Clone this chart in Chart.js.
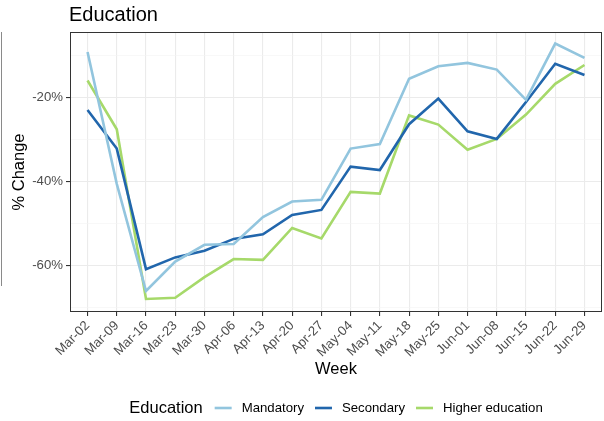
<!DOCTYPE html>
<html>
<head>
<meta charset="utf-8">
<script src="https://cdn.jsdelivr.net/npm/chart.js@4/dist/chart.umd.min.js"></script>
<style>
    html, body { margin: 0; padding: 0; background: #fff; }
    #wrap { width: 604px; height: 421px; }
</style>
</head>
<body>
<div id="wrap"><canvas id="lineChart" width="604" height="421"></canvas></div>
<script>
let weeks = ['Mar-02', 'Mar-09', 'Mar-16', 'Mar-23', 'Mar-30', 'Apr-06', 'Apr-13', 'Apr-20', 'Apr-27',
    'May-04', 'May-11', 'May-18', 'May-25', 'Jun-01', 'Jun-08', 'Jun-15', 'Jun-22', 'Jun-29'];

let mandatory = [-9.1, -40.5, -66.0, -59.0, -55.0, -54.8, -48.4, -44.7, -44.3,
    -32.1, -31.0, -15.5, -12.5, -11.7, -13.3, -20.5, -7.1, -10.5];
let secondary = [-22.9, -32.1, -60.8, -58.0, -56.4, -53.6, -52.5, -47.9, -46.7,
    -36.4, -37.2, -26.3, -20.2, -28.0, -29.8, -21.0, -11.9, -14.6];
let higherEd = [-15.9, -27.5, -67.9, -67.6, -62.7, -58.4, -58.6, -51.0, -53.5,
    -42.4, -42.8, -24.2, -26.4, -32.4, -29.8, -24.0, -16.7, -12.2];

let yTicks = [-70, -60, -50, -40, -30, -20, -10];
let yLabelled = [-60, -40, -20];

let seriesNames = ['Mandatory', 'Secondary', 'Higher education'];
let seriesColors = ['#92C5DE', '#2166AC', '#A6D96A'];

let fontName = '"Liberation Sans", Arial, sans-serif';

function points(values) {
    return values.map((v, i) => ({ x: i, y: v }));
}

// title, panel border, legend and the cut-off edge at the far left
let decorations = {
    id: 'decorations',
    afterDatasetsDraw(chart) {
        let c = chart.ctx;
        let a = chart.chartArea;
        c.save();
        c.strokeStyle = '#333333';
        c.lineWidth = 1;
        c.strokeRect(a.left + 0.5, a.top + 0.5, a.right - a.left - 1, a.bottom - a.top - 1);
        c.restore();
    },
    afterDraw(chart) {
        let c = chart.ctx;
        let a = chart.chartArea;
        c.save();

        c.fillStyle = '#000';
        c.textBaseline = 'alphabetic';
        c.textAlign = 'left';
        c.font = '20px ' + fontName;
        c.fillText('Education', a.left - 1, 21);

        c.strokeStyle = '#8a8a8a';
        c.lineWidth = 1;
        c.beginPath();
        c.moveTo(1.5, a.top);
        c.lineTo(1.5, 286);
        c.stroke();

        // legend, ggplot style with the title inline
        let legendY = 408;
        c.textBaseline = 'middle';
        c.font = '16.5px ' + fontName;
        let titleW = c.measureText('Education').width;
        c.font = '13.2px ' + fontName;
        let labelW = seriesNames.map(n => c.measureText(n).width);
        let keyW = 17, gapTitle = 12, gapKey = 10, gapItem = 11;
        let total = titleW + gapTitle;
        labelW.forEach((w, i) => {
            total += keyW + gapKey + w + (i < labelW.length - 1 ? gapItem : 0);
        });
        let x = (a.left + a.right) / 2 - total / 2;

        c.font = '16.5px ' + fontName;
        c.fillStyle = '#000';
        c.fillText('Education', x, legendY);
        x += titleW + gapTitle;

        c.font = '13.2px ' + fontName;
        seriesNames.forEach((n, i) => {
            c.strokeStyle = seriesColors[i];
            c.lineWidth = 2.6;
            c.beginPath();
            c.moveTo(x, legendY);
            c.lineTo(x + keyW, legendY);
            c.stroke();
            x += keyW + gapKey;
            c.fillStyle = '#000';
            c.fillText(n, x, legendY + 0.5);
            x += labelW[i] + gapItem;
        });

        c.restore();
    }
};

let ctx = document.getElementById('lineChart').getContext('2d');

let chart = new Chart(ctx, {
    type: 'line',
    plugins: [decorations],
    data: {
        datasets: [mandatory, secondary, higherEd].map((vals, i) => ({
            label: seriesNames[i],
            data: points(vals),
            borderColor: seriesColors[i],
            backgroundColor: seriesColors[i],
            borderWidth: 2.6,
            pointRadius: 0,
            tension: 0,
            fill: false
        }))
    },
    options: {
        responsive: false,
        animation: false,
        devicePixelRatio: 1,
        layout: {
            padding: { top: 32, right: 2, bottom: 40, left: 0 }
        },
        plugins: {
            legend: { display: false },
            title: { display: false },
            tooltip: { enabled: false }
        },
        scales: {
            x: {
                type: 'linear',
                min: -0.6,
                max: weeks.length - 1 + 0.6,
                afterFit: scale => { scale.height = 69; },
                afterBuildTicks: scale => {
                    scale.ticks = weeks.map((w, i) => ({ value: i }));
                },
                border: { display: false },
                grid: {
                    color: '#EBEBEB',
                    lineWidth: 1.1,
                    tickColor: '#333333',
                    tickLength: 4,
                    drawTicks: true
                },
                ticks: {
                    autoSkip: false,
                    minRotation: 45,
                    maxRotation: 45,
                    padding: 2,
                    color: '#4D4D4D',
                    font: { family: fontName, size: 13.2 },
                    callback: v => weeks[v]
                },
                title: {
                    display: true,
                    text: 'Week',
                    color: '#000',
                    font: { family: fontName, size: 16.5 },
                    padding: { top: 0, bottom: 2 }
                }
            },
            y: {
                min: -71,
                max: -4.35,
                afterFit: scale => { scale.width = 70; },
                afterBuildTicks: scale => {
                    scale.ticks = yTicks.map(v => ({ value: v }));
                },
                border: { display: false },
                grid: {
                    color: c => yLabelled.includes(c.tick.value) ? '#EBEBEB' : '#F4F4F4',
                    lineWidth: c => yLabelled.includes(c.tick.value) ? 1.1 : 0.6,
                    tickColor: c => yLabelled.includes(c.tick.value) ? '#333333' : 'rgba(0,0,0,0)',
                    tickLength: 4
                },
                ticks: {
                    padding: 3,
                    color: '#4D4D4D',
                    font: { family: fontName, size: 13.2 },
                    callback: v => yLabelled.includes(v) ? v + '%' : ''
                },
                title: {
                    display: true,
                    text: '% Change',
                    color: '#000',
                    font: { family: fontName, size: 16.5 },
                    padding: { top: 10, bottom: 0 }
                }
            }
        }
    }
});
</script>
</body>
</html>
